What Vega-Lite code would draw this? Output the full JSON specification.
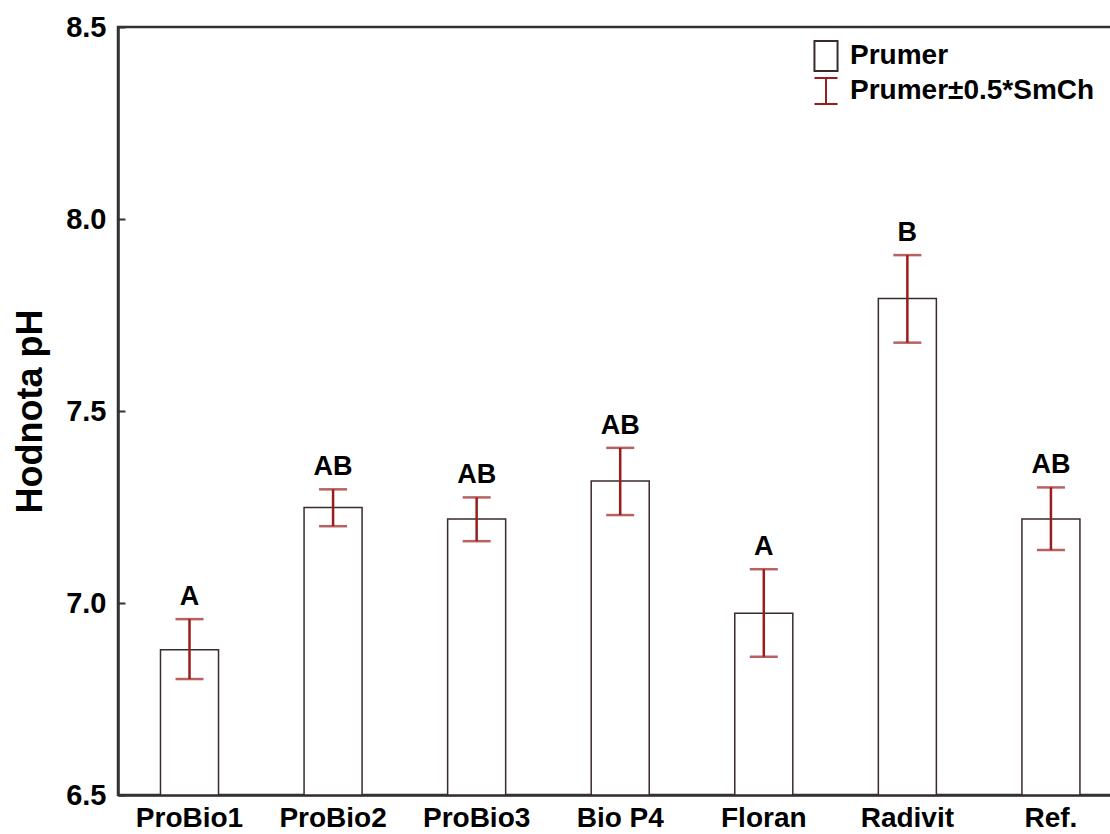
{
  "$schema": "https://vega.github.io/schema/vega-lite/v6.json",
  "width": 994,
  "height": 768,
  "autosize": {"type": "none"},
  "padding": {"left": 118, "top": 27, "right": 0, "bottom": 39},
  "background": "white",
  "config": {
    "font": "Liberation Sans",
    "view": {"stroke": "#333333", "strokeWidth": 2.5},
    "axis": {"labelFont": "Liberation Sans", "labelFontWeight": "bold", "labelColor": "black", "titleFont": "Liberation Sans", "titleFontWeight": "bold", "titleColor": "black", "grid": false}
  },
  "datasets": {
    "ph": [
      {"group": "ProBio1", "mean": 6.878, "lo": 6.802, "hi": 6.958, "letter": "A"},
      {"group": "ProBio2", "mean": 7.249, "lo": 7.200, "hi": 7.296, "letter": "AB"},
      {"group": "ProBio3", "mean": 7.219, "lo": 7.161, "hi": 7.275, "letter": "AB"},
      {"group": "Bio P4", "mean": 7.318, "lo": 7.229, "hi": 7.404, "letter": "AB"},
      {"group": "Floran", "mean": 6.973, "lo": 6.860, "hi": 7.088, "letter": "A"},
      {"group": "Radivit", "mean": 7.793, "lo": 7.678, "hi": 7.906, "letter": "B"},
      {"group": "Ref.", "mean": 7.219, "lo": 7.138, "hi": 7.301, "letter": "AB"}
    ],
    "legend": [
      {"series": "Prumer"},
      {"series": "Prumer±0.5*SmCh"}
    ]
  },
  "layer": [
    {
      "data": {"name": "ph"},
      "mark": {"type": "bar", "fill": "white", "stroke": "#3a2b2b", "strokeWidth": 1.5},
      "encoding": {
        "x": {
          "field": "group",
          "type": "nominal",
          "sort": null,
          "scale": {"paddingInner": 0.5958, "paddingOuter": 0.2596, "align": 0.57},
          "axis": {"title": null, "labelAngle": 0, "ticks": false, "domain": true, "domainColor": "#333333", "domainWidth": 2.5, "labelFontSize": 28, "labelPadding": 9}
        },
        "y": {
          "field": "mean",
          "type": "quantitative",
          "scale": {"domain": [6.5, 8.5], "nice": false, "zero": false},
          "axis": {"title": "Hodnota pH", "titleFontSize": 36, "titlePadding": 16, "values": [6.5, 7.0, 7.5, 8.0, 8.5], "format": ".1f", "labelFontSize": 29, "tickSize": -7, "tickWidth": 2, "tickColor": "#333333", "domainColor": "#333333", "domainWidth": 2.5, "labelPadding": 19}
        },
        "y2": {"datum": 6.5}
      }
    },
    {
      "data": {"name": "ph"},
      "mark": {"type": "rule", "color": "#9b1c1c", "strokeWidth": 2.5},
      "encoding": {"x": {"field": "group", "type": "nominal", "sort": null}, "y": {"field": "lo", "type": "quantitative"}, "y2": {"field": "hi"}}
    },
    {
      "data": {"name": "ph"},
      "mark": {"type": "tick", "color": "#9b1c1c", "size": 28, "thickness": 2.5},
      "encoding": {"x": {"field": "group", "type": "nominal", "sort": null}, "y": {"field": "lo", "type": "quantitative"}}
    },
    {
      "data": {"name": "ph"},
      "mark": {"type": "tick", "color": "#9b1c1c", "size": 28, "thickness": 2.5},
      "encoding": {"x": {"field": "group", "type": "nominal", "sort": null}, "y": {"field": "hi", "type": "quantitative"}}
    },
    {
      "data": {"name": "ph"},
      "mark": {"type": "text", "baseline": "bottom", "dy": -8, "fontSize": 27, "fontWeight": "bold", "color": "black"},
      "encoding": {"x": {"field": "group", "type": "nominal", "sort": null}, "y": {"field": "hi", "type": "quantitative"}, "text": {"field": "letter"}}
    },
    {
      "data": {"name": "legend"},
      "mark": {"type": "point", "opacity": 0, "filled": false},
      "encoding": {
        "shape": {"field": "series", "type": "nominal", "sort": null, "scale": {"domain": ["Prumer", "Prumer±0.5*SmCh"], "range": ["M-0.77,-1H0.77V1H-0.77Z", "M-0.77,-0.87H0.77M0,-0.87V0.87M-0.77,0.87H0.77"]}},
        "stroke": {"field": "series", "type": "nominal", "sort": null, "scale": {"domain": ["Prumer", "Prumer±0.5*SmCh"], "range": ["#3a2b2b", "#9b1c1c"]}, "legend": {"title": null, "orient": "none", "legendX": 692, "legendY": 13, "padding": 0, "symbolSize": 900, "symbolStrokeWidth": 2, "symbolOpacity": 1, "labelFontSize": 28, "labelFontWeight": "bold", "labelFont": "Liberation Sans", "labelColor": "black", "labelOffset": 8, "labelLimit": 500, "rowPadding": -3}}
      }
    }
  ]
}
